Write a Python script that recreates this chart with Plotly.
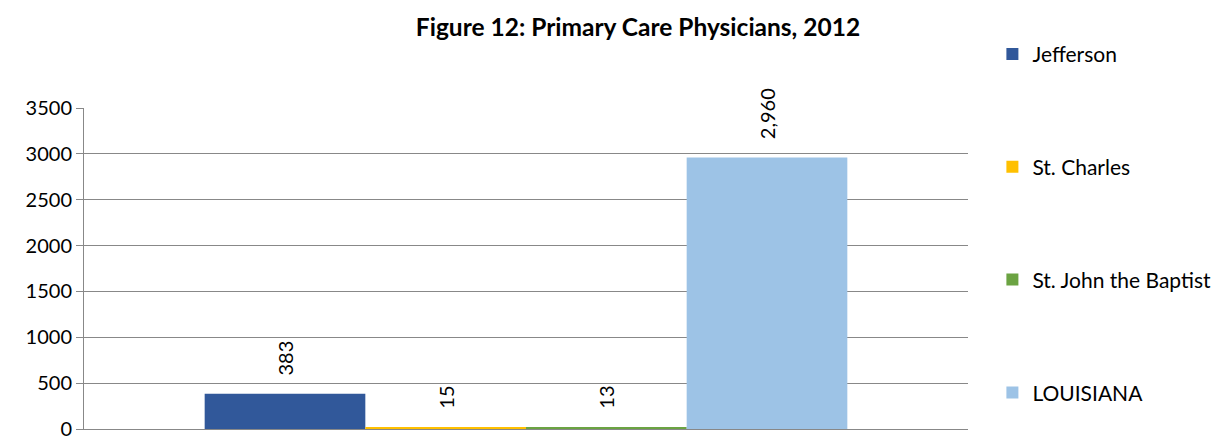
import plotly.graph_objects as go

# datos
parroquias = ["Jefferson", "St. Charles", "St. John the Baptist", "LOUISIANA"]
medicos = [383, 15, 13, 2960]
colores = ["#31589A", "#FFC000", "#6BA342", "#9DC3E6"]
categoria = [""]

fuente = "Lato"

fig = go.Figure()
for i, nombre in enumerate(parroquias):
    fig.add_trace(go.Bar(
        x=categoria, y=[medicos[i]], name=nombre,
        marker=dict(color=colores[i], line=dict(width=0)),
        legendgroup=nombre,
        texttemplate="\u00a0\u00a0\u00a0%{y:,}", textposition="outside",
        textangle=-90, cliponaxis=False,
        textfont=dict(family=fuente, size=20, color="#000000"),
    ))

# la pagina deja 8px de margen en el body
fig.update_layout(
    width=1220, height=436,
    margin=dict(l=76, r=260, t=100, b=15, autoexpand=False),
    paper_bgcolor="white", plot_bgcolor="white",
    barmode="group", bargap=0.273, bargroupgap=0,
    font=dict(family=fuente, color="#000000"),
    title=dict(text="<b>Figure 12: Primary Care Physicians, 2012</b>",
               font=dict(family=fuente, size=24.5, color="#000000"),
               x=(638 - 8) / 1220, xref="container", xanchor="center",
               y=1 - 19 / 436, yref="container", yanchor="middle"),
    showlegend=True,
    legend=dict(x=1.0276, xanchor="left", y=1.231, yanchor="top",
                maxheight=420, tracegroupgap=82.5, traceorder="grouped",
                font=dict(family=fuente, size=21, color="#000000")),
)
fig.update_xaxes(range=[-0.5, 0.5], showticklabels=False, ticks="",
                 showline=True, linecolor="#888888", linewidth=1,
                 showgrid=False, zeroline=False)
fig.update_yaxes(range=[0, 3500], dtick=500, tickformat="d",
                 showline=True, linecolor="#888888", linewidth=1,
                 showgrid=True, gridcolor="#888888", gridwidth=1,
                 ticks="outside", ticklen=7, tickcolor="#888888",
                 zeroline=False, automargin=False,
                 tickfont=dict(family=fuente, size=20, color="#000000"))

fig.write_html("out.html")
